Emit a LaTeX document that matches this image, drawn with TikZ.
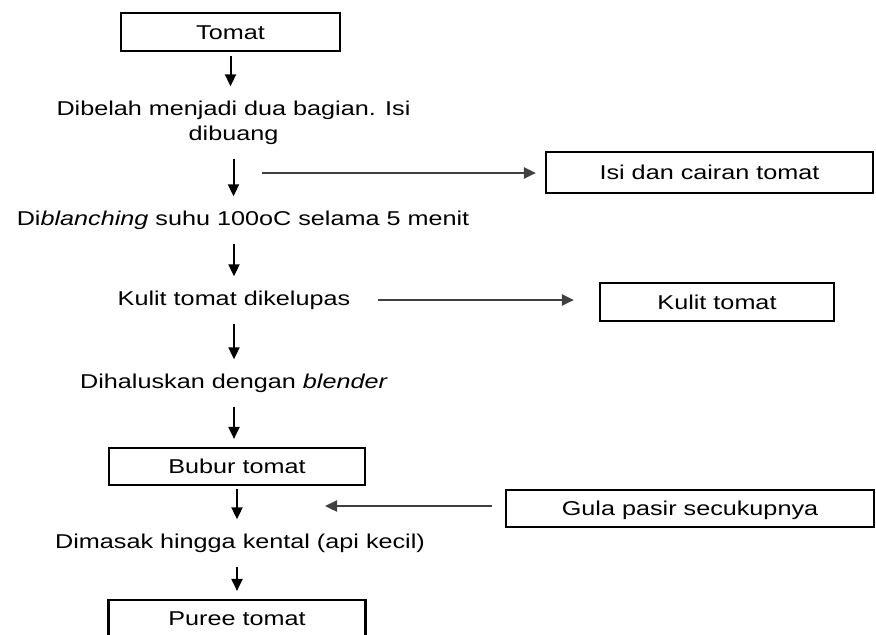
\documentclass[tikz,border=0pt]{standalone}
\usepackage{fontspec}
\setmainfont{Liberation Sans}[FakeStretch=1.26]
\usetikzlibrary{arrows.meta}
\tikzset{
  material/.style={draw,line width=1.1pt,inner sep=0pt,text height=7.2pt,text depth=0pt},
  process/.style={inner sep=0pt,text height=7.2pt,text depth=2.1pt},
  flow/.style={-{Triangle[length=6pt,width=5.5pt]},line width=1pt,shorten <=7pt,shorten >=7pt},
  side/.style={-{Triangle[length=6pt,width=5.5pt]},line width=1.1pt,black!75}
}

\begin{document}
\begin{tikzpicture}[x=0.5pt,y=-0.5pt,font=\fontsize{10pt}{12.5pt}\selectfont]
  \useasboundingbox (0,0) rectangle (876,634);
  \fill[white] (0,0) rectangle (876,634);
  \clip (0,0) rectangle (876,634);

  % main line
  \node[material,minimum width=109.5pt,minimum height=19pt] (tomat) at (230.5,32) {Tomat};
  \node[align=center,inner sep=0pt] (belah) at (233.5,122.5) {Dibelah menjadi dua bagian. Isi\\dibuang};
  \node[process] (blanch) at (243,220) {Di\textit{blanching} suhu 100oC selama 5 menit};
  \node[process] (kupas) at (234,300) {Kulit tomat dikelupas};
  \node[process] (halus) at (234,383) {Dihaluskan dengan \textit{blender}};
  \node[material,minimum width=128pt,minimum height=18.5pt] (bubur) at (237,466.5) {Bubur tomat};
  \node[process] (masak) at (240,543) {Dimasak hingga kental (api kecil)};
  \node[material,minimum width=128.5pt,minimum height=18.5pt] (puree) at (237,618.5) {Puree tomat};

  % side boxes
  \node[material,minimum width=163.5pt,minimum height=20.5pt] (isi) at (709.5,172.5) {Isi dan cairan tomat};
  \node[material,minimum width=117pt,minimum height=19pt] (kulit) at (717,302) {Kulit tomat};
  \node[material,minimum width=184pt,minimum height=18.5pt] (gula) at (690,508.5) {Gula pasir secukupnya};
  \coordinate (buang) at (262,173);
  \coordinate (tambah) at (325,506);

  \draw[flow,shorten <=2pt] (tomat.south) -- (tomat.south |- belah.north);
  \draw[flow] (belah.south) -- (belah.south |- blanch.north);
  \draw[flow] (kupas.north |- blanch.south) -- (kupas.north);
  \draw[flow] (kupas.south) -- (kupas.south |- halus.north);
  \draw[flow,shorten >=4pt] (halus.south) -- (halus.south |- bubur.north);
  \draw[flow,shorten <=1.5pt] (bubur.south) -- (bubur.south |- masak.north);
  \draw[flow,shorten >=4pt] (puree.north |- masak.south) -- (puree.north);

  % sisa dan tambahan
  \draw[side,shorten >=4.5pt] (buang) -- (buang -| isi.west);
  \draw[side,shorten <=13.5pt,shorten >=12.5pt] (kupas.east) -- (kupas.east -| kulit.west);
  \draw[side,shorten <=6.5pt] (tambah -| gula.west) -- (tambah);
\end{tikzpicture}
\end{document}
